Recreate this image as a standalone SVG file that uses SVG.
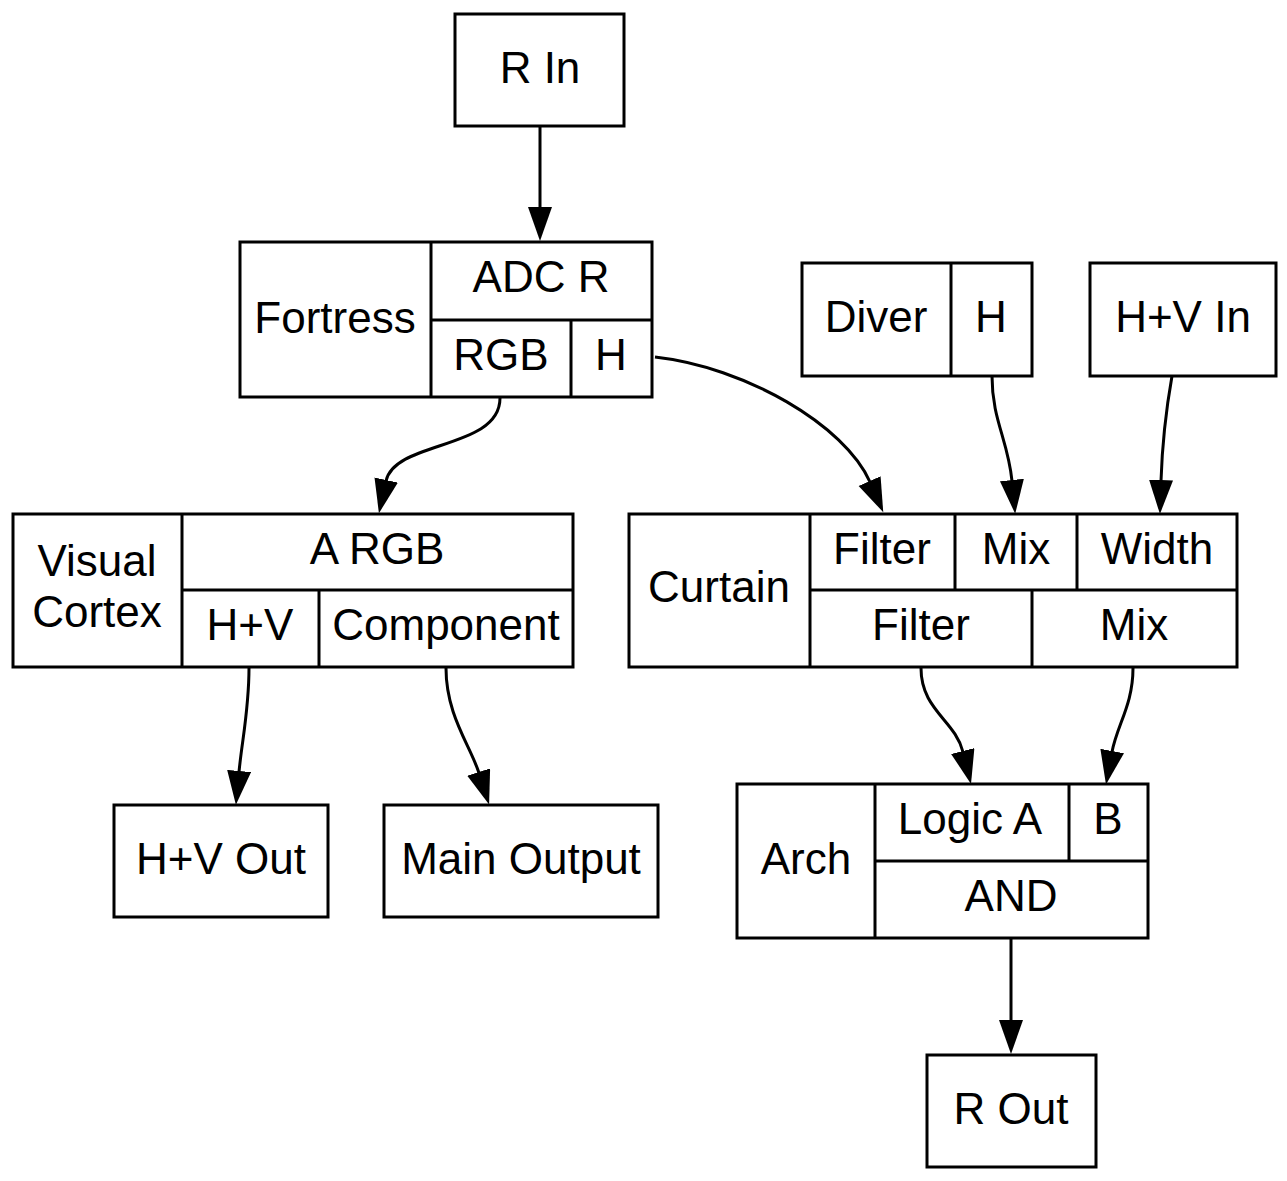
<svg xmlns="http://www.w3.org/2000/svg" width="1287" height="1181" viewBox="0 0 1287 1181">
<defs>
<style>
.box{fill:none;stroke:#000;stroke-width:3}
.div{fill:none;stroke:#000;stroke-width:3}
text{font-family:"Liberation Sans",Arial,sans-serif;font-size:44px;text-anchor:middle;fill:#000}
.edge{fill:none;stroke:#000;stroke-width:3}
</style>
<marker id="arr" markerUnits="userSpaceOnUse" markerWidth="36" markerHeight="26" refX="1" refY="12" orient="auto" viewBox="0 0 36 26">
<path d="M0,0 L34,12 L0,24 z" fill="#000"/>
</marker>
</defs>
<rect width="1287" height="1181" fill="#fff"/>

<g id="rin">
<rect class="box" x="455" y="14" width="169" height="112"/>
<text x="540" y="83">R In</text>
</g>

<g id="fortress">
<rect class="box" x="240" y="242" width="412" height="155"/>
<path class="div" d="M431,242 V397 M431,320 H652 M571,320 V397"/>
<text x="335" y="333">Fortress</text>
<text x="541" y="292">ADC R</text>
<text x="501" y="370">RGB</text>
<text x="611" y="370">H</text>
</g>

<g id="diver">
<rect class="box" x="802" y="263" width="230" height="113"/>
<path class="div" d="M951,263 V376"/>
<text x="876" y="332">Diver</text>
<text x="991" y="332">H</text>
</g>

<g id="hvin">
<rect class="box" x="1090" y="263" width="186" height="113"/>
<text x="1183" y="332">H+V In</text>
</g>

<g id="visualcortex">
<rect class="box" x="13" y="514" width="560" height="153"/>
<path class="div" d="M182,514 V667 M182,590 H573 M319,590 V667"/>
<text x="97" y="576">Visual</text>
<text x="97" y="627">Cortex</text>
<text x="377" y="564">A RGB</text>
<text x="250" y="640">H+V</text>
<text x="446" y="640">Component</text>
</g>

<g id="curtain">
<rect class="box" x="629" y="514" width="608" height="153"/>
<path class="div" d="M810,514 V667 M810,590 H1237 M955,514 V590 M1077,514 V590 M1032,590 V667"/>
<text x="719" y="602">Curtain</text>
<text x="882" y="564">Filter</text>
<text x="1016" y="564">Mix</text>
<text x="1157" y="564">Width</text>
<text x="921" y="640">Filter</text>
<text x="1134" y="640">Mix</text>
</g>

<g id="hvout">
<rect class="box" x="114" y="805" width="214" height="112"/>
<text x="221" y="874">H+V Out</text>
</g>

<g id="mainoutput">
<rect class="box" x="384" y="805" width="274" height="112"/>
<text x="521" y="874">Main Output</text>
</g>

<g id="arch">
<rect class="box" x="737" y="784" width="411" height="154"/>
<path class="div" d="M875,784 V938 M875,861 H1148 M1069,784 V861"/>
<text x="806" y="874">Arch</text>
<text x="970" y="834">Logic A</text>
<text x="1108" y="834">B</text>
<text x="1011" y="911">AND</text>
</g>

<g id="rout">
<rect class="box" x="927" y="1055" width="169" height="112"/>
<text x="1011" y="1124">R Out</text>
</g>

<g id="connectors">
<path class="edge" marker-end="url(#arr)" d="M540,126 L540,208"/>
<path class="edge" marker-end="url(#arr)" d="M500,398 C500,450 395,440 386,481"/>
<path class="edge" marker-end="url(#arr)" d="M655,357 C745,367 845,425 870,482"/>
<path class="edge" marker-end="url(#arr)" d="M992,376 C992,420 1008,440 1012,481"/>
<path class="edge" marker-end="url(#arr)" d="M1172,376 C1166,410 1162,450 1161,481"/>
<path class="edge" marker-end="url(#arr)" d="M249,668 C249,710 242,740 239,772"/>
<path class="edge" marker-end="url(#arr)" d="M446,668 C446,715 470,745 479,773"/>
<path class="edge" marker-end="url(#arr)" d="M921,668 C921,710 955,720 963,752"/>
<path class="edge" marker-end="url(#arr)" d="M1133,668 C1133,705 1117,725 1112,752"/>
<path class="edge" marker-end="url(#arr)" d="M1011,938 L1011,1021"/>
</g>
</svg>
